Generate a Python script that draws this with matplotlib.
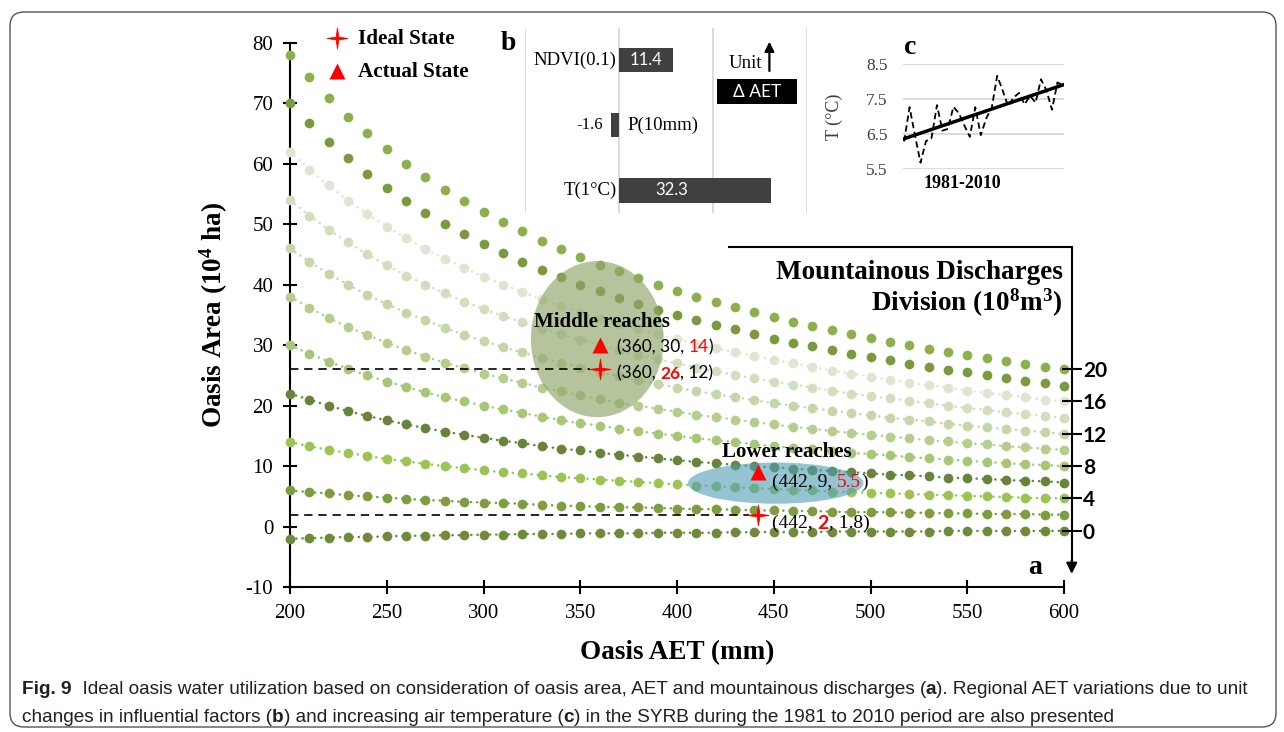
"""Oasis area vs AET under mountainous discharges, with panels b and c."""

import numpy as np
import matplotlib
matplotlib.use('Agg')
import matplotlib.pyplot as plt
from matplotlib.patches import Ellipse, FancyBboxPatch, Rectangle
from matplotlib.path import Path
from matplotlib.transforms import IdentityTransform

plt.rcParams['font.family'] = ['Liberation Serif', 'DejaVu Serif']
plt.rcParams['mathtext.default'] = 'regular'
plt.rcParams['axes.unicode_minus'] = False

SERIF = ['Liberation Serif', 'DejaVu Serif']
SANS = ['Lato', 'DejaVu Sans']
CAPTION = ['Liberation Sans', 'DejaVu Sans']

# ---- panel a data ----
aet = list(range(200, 610, 10))
discharge = [20, 18, 16, 14, 12, 10, 8, 6, 4, 2, 0]

area_q20 = [78.0, 74.3, 70.9, 67.8, 65.0, 62.4, 60.0, 57.8, 55.7, 53.8, 52.0, 50.3, 48.8, 47.3,
            45.9, 44.6, 43.3, 42.2, 41.1, 40.0, 39.0, 38.0, 37.1, 36.3, 35.5, 34.7, 33.9, 33.2,
            32.5, 31.8, 31.2, 30.6, 30.0, 29.4, 28.9, 28.4, 27.9, 27.4, 26.9, 26.4, 26.0]
area_q18 = [70.0, 66.7, 63.6, 60.9, 58.3, 56.0, 53.8, 51.9, 50.0, 48.3, 46.7, 45.2, 43.8, 42.4,
            41.2, 40.0, 38.9, 37.8, 36.8, 35.9, 35.0, 34.1, 33.3, 32.6, 31.8, 31.1, 30.4, 29.8,
            29.2, 28.6, 28.0, 27.5, 26.9, 26.4, 25.9, 25.5, 25.0, 24.6, 24.1, 23.7, 23.3]
area_q16 = [62.0, 59.0, 56.4, 53.9, 51.7, 49.6, 47.7, 45.9, 44.3, 42.8, 41.3, 40.0, 38.8, 37.6,
            36.5, 35.4, 34.4, 33.5, 32.6, 31.8, 31.0, 30.2, 29.5, 28.8, 28.2, 27.6, 27.0, 26.4,
            25.8, 25.3, 24.8, 24.3, 23.8, 23.4, 23.0, 22.5, 22.1, 21.8, 21.4, 21.0, 20.7]
area_q14 = [54.0, 51.4, 49.1, 47.0, 45.0, 43.2, 41.5, 40.0, 38.6, 37.2, 36.0, 34.8, 33.8, 32.7,
            31.8, 30.9, 30.0, 29.2, 28.4, 27.7, 27.0, 26.3, 25.7, 25.1, 24.5, 24.0, 23.5, 23.0,
            22.5, 22.0, 21.6, 21.2, 20.8, 20.4, 20.0, 19.6, 19.3, 18.9, 18.6, 18.3, 18.0]
area_q12 = [46.0, 43.8, 41.8, 40.0, 38.3, 36.8, 35.4, 34.1, 32.9, 31.7, 30.7, 29.7, 28.8, 27.9,
            27.1, 26.3, 25.6, 24.9, 24.2, 23.6, 23.0, 22.4, 21.9, 21.4, 20.9, 20.4, 20.0, 19.6,
            19.2, 18.8, 18.4, 18.0, 17.7, 17.4, 17.0, 16.7, 16.4, 16.1, 15.9, 15.6, 15.3]
area_q10 = [38.0, 36.2, 34.5, 33.0, 31.7, 30.4, 29.2, 28.1, 27.1, 26.2, 25.3, 24.5, 23.8, 23.0,
            22.4, 21.7, 21.1, 20.5, 20.0, 19.5, 19.0, 18.5, 18.1, 17.7, 17.3, 16.9, 16.5, 16.2,
            15.8, 15.5, 15.2, 14.9, 14.6, 14.3, 14.1, 13.8, 13.6, 13.3, 13.1, 12.9, 12.7]
area_q8 = [30.0, 28.6, 27.3, 26.1, 25.0, 24.0, 23.1, 22.2, 21.4, 20.7, 20.0, 19.4, 18.8, 18.2,
           17.6, 17.1, 16.7, 16.2, 15.8, 15.4, 15.0, 14.6, 14.3, 14.0, 13.6, 13.3, 13.0, 12.8,
           12.5, 12.2, 12.0, 11.8, 11.5, 11.3, 11.1, 10.9, 10.7, 10.5, 10.3, 10.2, 10.0]
area_q6 = [22.0, 21.0, 20.0, 19.1, 18.3, 17.6, 16.9, 16.3, 15.7, 15.2, 14.7, 14.2, 13.8, 13.3,
           12.9, 12.6, 12.2, 11.9, 11.6, 11.3, 11.0, 10.7, 10.5, 10.2, 10.0, 9.8, 9.6, 9.4,
           9.2, 9.0, 8.8, 8.6, 8.5, 8.3, 8.1, 8.0, 7.9, 7.7, 7.6, 7.5, 7.3]
area_q4 = [14.0, 13.3, 12.7, 12.2, 11.7, 11.2, 10.8, 10.4, 10.0, 9.7, 9.3, 9.0, 8.8, 8.5,
           8.2, 8.0, 7.8, 7.6, 7.4, 7.2, 7.0, 6.8, 6.7, 6.5, 6.4, 6.2, 6.1, 6.0,
           5.8, 5.7, 5.6, 5.5, 5.4, 5.3, 5.2, 5.1, 5.0, 4.9, 4.8, 4.7, 4.7]
area_q2 = [6.0, 5.7, 5.5, 5.2, 5.0, 4.8, 4.6, 4.4, 4.3, 4.1, 4.0, 3.9, 3.8, 3.6,
           3.5, 3.4, 3.3, 3.2, 3.2, 3.1, 3.0, 2.9, 2.9, 2.8, 2.7, 2.7, 2.6, 2.6,
           2.5, 2.4, 2.4, 2.4, 2.3, 2.3, 2.2, 2.2, 2.1, 2.1, 2.1, 2.0, 2.0]
area_q0 = [-2.0, -1.9, -1.8, -1.7, -1.7, -1.6, -1.5, -1.5, -1.4, -1.4, -1.3, -1.3, -1.2, -1.2,
           -1.2, -1.1, -1.1, -1.1, -1.1, -1.0, -1.0, -1.0, -1.0, -0.9, -0.9, -0.9, -0.9, -0.9,
           -0.8, -0.8, -0.8, -0.8, -0.8, -0.8, -0.7, -0.7, -0.7, -0.7, -0.7, -0.7, -0.7]

areas = [area_q20, area_q18, area_q16, area_q14, area_q12, area_q10,
         area_q8, area_q6, area_q4, area_q2, area_q0]
curve_colors = ['#8CB04C', '#7A9A3E', '#DDE7D0', '#D0DFBE', '#C3D7A8', '#B4CE8E',
                '#A6C776', '#67843A', '#9CC453', '#7D9D3E', '#6E8B3A']
dotted = [False, False, True, True, True, True, True, True, True, True, True]
right_ticks = [20, 16, 12, 8, 4, 0]

# ideal vs actual states (AET, area, discharge)
regions = ['Middle reaches', 'Lower reaches']
state_aet = [360, 442]
actual_area = [30, 9]
actual_q = [14, 5.5]
ideal_area = [26, 2]
ideal_q = [12, 1.8]

# ---- panel b data ----
factors = ['NDVI(0.1)', 'P(10mm)', 'T(1°C)']
delta_aet = [11.4, -1.6, 32.3]

# ---- panel c data ----
years = list(range(1981, 2011))
temp = [6.29, 7.27, 6.45, 5.68, 6.30, 6.38, 7.33, 6.60, 6.65, 7.28, 7.10, 6.75, 6.42, 7.27, 6.47,
        6.95, 7.25, 8.17, 7.75, 7.30, 7.55, 7.68, 7.35, 7.60, 7.40, 8.07, 7.75, 7.20, 7.98, 7.90]

W, H = 1284, 732
fig = plt.figure(figsize=(W / 100, H / 100), dpi=100)
fig.patch.set_facecolor('white')

# thin four-pointed star for the ideal state
k = 0.13
STAR = Path([(0, 1), (k, k), (1, 0), (k, -k), (0, -1), (-k, -k), (-1, 0), (-k, k), (0, 1)],
            [Path.MOVETO] + [Path.LINETO] * 7 + [Path.CLOSEPOLY])


def run(ax, x, y, pieces, transform, va='center', **common):
    """Write text pieces one after the other on one line."""
    s, kw = pieces[0]
    out = [ax.text(x, y, s, transform=transform, va=va, ha='left', **{**common, **kw})]
    for s, kw in pieces[1:]:
        out.append(ax.annotate(s, xy=(1, 0), xycoords=out[-1], va='bottom', ha='left',
                               annotation_clip=False, **{**common, **kw}))
    return out


# outer frame
fig.add_artist(FancyBboxPatch((10, 5), 1266, 715, boxstyle='round,pad=0,rounding_size=14',
                              transform=IdentityTransform(), fill=False,
                              ec='#555555', lw=1.0))

# ==== panel a ====
ax = fig.add_axes([290 / W, 1 - 587.2 / H, 774 / W, 544.5 / H])
ax.set_facecolor('none')
for vals, col, dot in zip(areas, curve_colors, dotted):
    if dot:
        ax.plot(aet, vals, color=col, lw=1.8, ls=(0, (0.1, 2.4)),
                dash_capstyle='round', zorder=2, clip_on=False)
    ax.plot(aet, vals, 'o', color=col, ms=7, mec='none', zorder=3, clip_on=False)

ax.set_xlim(200, 600)
ax.set_ylim(-10, 80)
ax.set_xticks(range(200, 601, 50))
ax.set_yticks(range(-10, 81, 10))
for side in ['top', 'right']:
    ax.spines[side].set_visible(False)
for side in ['left', 'bottom']:
    ax.spines[side].set_linewidth(1.5)
ax.tick_params(direction='inout', length=10, width=1.5, labelsize=15, colors='black')
ax.tick_params(axis='y', pad=7)
ax.tick_params(axis='x', pad=7)
ax.set_xlabel('Oasis AET (mm)', fontsize=19.5, fontweight='bold')
ax.xaxis.set_label_coords(0.5, -0.097)
ax.set_ylabel('Oasis Area (10$^4$ ha)', fontsize=19.5, fontweight='bold')
ax.yaxis.set_label_coords(-0.077, 0.5)

# region ellipses
ax.add_patch(Ellipse((358.8, 31.0), 68.6, 25.8, fc='#8FA66A', ec='none', alpha=0.66, zorder=4))
ax.add_patch(Ellipse((451.0, 7.2), 90.7, 6.8, fc='#4F9CB3', ec='none', alpha=0.6, zorder=4))

# states
ax.plot(state_aet, actual_area, '^', color='#FF0000', ms=11, mec='none', zorder=6, clip_on=False)
ax.plot(state_aet, ideal_area, marker=STAR, ls='none', color='#FF0000', ms=15,
        mec='#FF0000', mew=0.6, zorder=6)
for xs, ys in zip(state_aet, ideal_area):
    ax.plot([200, xs - 5], [ys, ys], color='black', lw=1.2, ls=(0, (5, 3.5)), zorder=5)

# annotations
ax.text(326, 33.8, regions[0], fontsize=15, fontweight='bold', va='center', zorder=7)
run(ax, 369, 29.7, [(f'({state_aet[0]}, {actual_area[0]}, ', {}),
                    (f'{actual_q[0]}', {'color': '#FF0000'}),
                    (')', {})], ax.transData, family=SANS, fontsize=12.5, zorder=7)
run(ax, 369, 25.3, [(f'({state_aet[0]}, ', {}),
                    (f'{ideal_area[0]}', {'color': '#FF0000', 'fontweight': 'bold'}),
                    (f', {ideal_q[0]})', {})], ax.transData, family=SANS, fontsize=12.5, zorder=7)
ax.text(423, 12.4, regions[1], fontsize=15, fontweight='bold', va='center', zorder=7)
run(ax, 449, 7.4, [(f'({state_aet[1]}, {actual_area[1]}, ', {}),
                   (f'{actual_q[1]}', {'color': '#FF0000'}),
                   (')', {})], ax.transData, family=SERIF, fontsize=14, zorder=7)
run(ax, 449, 0.6, [(f'({state_aet[1]}, ', {}),
                   (f'{ideal_area[1]}', {'color': '#FF0000', 'fontweight': 'bold',
                                          'family': SANS}),
                   (f', {ideal_q[1]})', {})], ax.transData, family=SERIF, fontsize=14, zorder=7)

# legend
ax.plot([0.061], [1.009], marker=STAR, color='#FF0000', ms=15, mew=0.6,
        transform=ax.transAxes, clip_on=False)
ax.plot([0.061], [0.948], marker='^', color='#FF0000', ms=11, mec='none',
        transform=ax.transAxes, clip_on=False)
ax.text(0.088, 1.006, 'Ideal State', transform=ax.transAxes, fontsize=15.2,
        fontweight='bold', va='center')
ax.text(0.088, 0.946, 'Actual State', transform=ax.transAxes, fontsize=15.2,
        fontweight='bold', va='center')

# discharge axis on the right
ax2 = ax.twinx()
ax2.set_ylim(ax.get_ylim())
for side in ['top', 'left', 'bottom']:
    ax2.spines[side].set_visible(False)
ax2.spines['right'].set_position(('data', 604))
ax2.spines['right'].set_bounds(-6.0, 46.2)
ax2.spines['right'].set_linewidth(1.5)
ax2.set_yticks([areas[discharge.index(q)][-1] for q in right_ticks])
ax2.set_yticklabels([str(q) for q in right_ticks], family=SANS, fontweight='bold', fontsize=15)
ax2.tick_params(axis='y', direction='inout', length=14, width=1.5, pad=1)
ax.plot([427, 604], [46.2, 46.2], color='black', lw=1.5, clip_on=False)
ax.annotate('', xy=(604, -7.8), xytext=(604, -5.5), annotation_clip=False,
            arrowprops=dict(arrowstyle='-|>', color='black', lw=1.5, mutation_scale=16,
                            shrinkA=0, shrinkB=0))
ax.text(0.998, 0.578, 'Mountainous Discharges', transform=ax.transAxes, ha='right',
        va='center', fontsize=19.5, fontweight='bold')
ax.text(0.998, 0.523, 'Division (10$^8$m$^3$)', transform=ax.transAxes, ha='right',
        va='center', fontsize=19.5, fontweight='bold')
ax.text(585, -6.8, 'a', fontsize=20, fontweight='bold', ha='center', va='center')

# ==== panel b ====
axb = fig.add_axes([525 / W, 1 - 213 / H, 282 / W, 185 / H])
axb.set_facecolor('none')
ypos = list(range(len(factors)))
axb.barh(ypos, delta_aet, height=0.38, color='#404040', zorder=3)
axb.set_xlim(-20, 40)
axb.set_ylim(2.35, -0.49)
axb.set_xticks([-20, 0, 20, 40])
axb.set_yticks([])
axb.grid(axis='x', color='#d9d9d9', lw=1.3, zorder=0)
axb.tick_params(axis='x', length=0, labelbottom=False)
for s in axb.spines.values():
    s.set_visible(False)
value_x = [5.7, -3.4, 11.3]
for i, (name, v) in enumerate(zip(factors, delta_aet)):
    if v >= 0:
        axb.text(-0.5, i, name, ha='right', va='center', fontsize=13.5)
        axb.text(value_x[i], i, f'{v}', ha='center', va='center', color='white',
                 family=SANS, fontsize=12, zorder=4)
    else:
        axb.text(1.9, i, name, ha='left', va='center', fontsize=13.5)
        axb.text(value_x[i], i, f'{v}', ha='right', va='center', fontsize=12)
axb.text(30.4, 0.05, 'Unit', ha='right', va='center', fontsize=13.5)
axb.annotate('', xy=(32.0, -0.28), xytext=(32.0, 0.17),
             arrowprops=dict(arrowstyle='-|>', color='black', lw=1.6, mutation_scale=14,
                             shrinkA=0, shrinkB=0))
axb.add_patch(Rectangle((20.9, 0.29), 17.0, 0.38, fc='black', ec='none', zorder=3))
axb.text(29.4, 0.485, 'Δ AET', ha='center', va='center', color='white',
         family=SANS, fontsize=12.5, zorder=4)
fig.text(508 / W, 1 - 44 / H, 'b', fontsize=20, fontweight='bold', ha='center', va='center')

# ==== panel c ====
axc = fig.add_axes([903 / W, 1 - 169 / H, 161 / W, 104.7 / H])
axc.set_facecolor('none')
axc.plot(years, temp, color='black', lw=1.3, ls=(0, (3.5, 2)))
coef = np.polyfit(years, temp, 1)
axc.plot(years, np.polyval(coef, years), color='black', lw=2.5)
axc.set_xlim(1980.8, 2010.2)
axc.set_ylim(5.5, 8.5)
axc.set_yticks([5.5, 6.5, 7.5, 8.5])
axc.set_yticklabels(['5.5', '6.5', '7.5', '8.5'])
axc.set_xticks([])
axc.grid(axis='y', color='#d9d9d9', lw=1.3)
axc.set_axisbelow(True)
for s in axc.spines.values():
    s.set_visible(False)
axc.tick_params(axis='y', length=0, pad=11, labelsize=12.5, labelcolor='#404040')
axc.set_ylabel('T (°C)', fontsize=13, color='#404040')
axc.yaxis.set_label_coords(-0.375, 0.5)
axc.text(0.366, -0.14, '1981-2010', transform=axc.transAxes, ha='center', va='center',
         fontsize=13, fontweight='bold')
fig.text(910 / W, 1 - 47 / H, 'c', fontsize=20, fontweight='bold', ha='center', va='center')

# ==== caption ====
cap = fig.add_axes([0, 0, 1, 1])
cap.axis('off')
cap.set_zorder(-1)
B = {'fontweight': 'bold'}
line1 = run(cap, 22 / W, 1 - 690 / H,
            [('Fig. 9', B),
             ('  Ideal oasis water utilization based on consideration of oasis area, AET and '
              'mountainous discharges (', {}),
             ('a', B),
             ('). Regional AET variations due to unit', {})],
            cap.transAxes, family=CAPTION, fontsize=11.6, color='#231F20')
line2 = run(cap, 22 / W, 1 - 717 / H,
            [('changes in influential factors (', {}),
             ('b', B),
             (') and increasing air temperature (', {}),
             ('c', B),
             (') in the SYRB during the 1981 to 2010 period are also presented', {})],
            cap.transAxes, family=CAPTION, fontsize=11.6, color='#231F20')

# size the caption so that its first line fills the frame width
fig.canvas.draw()
r = fig.canvas.get_renderer()
x_end = line1[-1].get_window_extent(r).x1
size = 11.6 * (1262 - 22) / (x_end - 22)
for t in line1 + line2:
    t.set_fontsize(size)

fig.savefig('out.png', dpi=100, facecolor='white')
